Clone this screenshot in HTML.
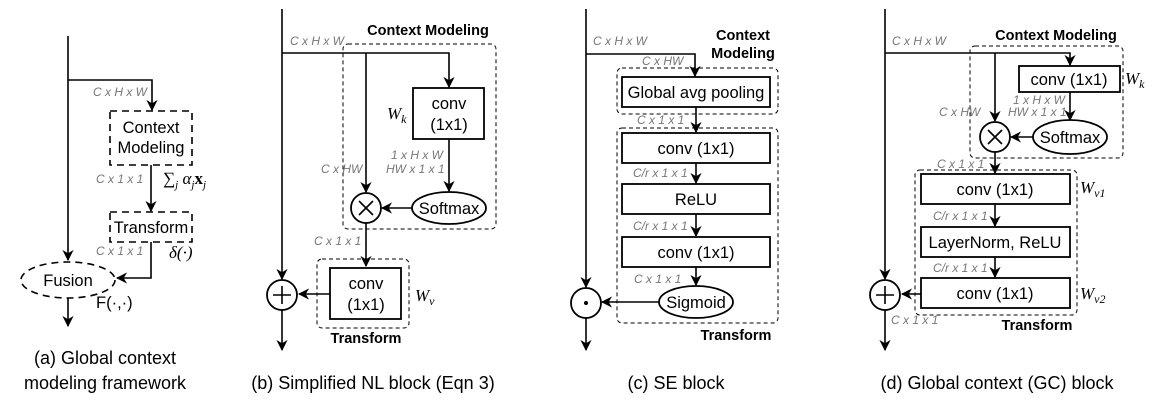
<!DOCTYPE html>
<html><head><meta charset="utf-8"><style>
html,body{margin:0;padding:0;background:#fff;}
svg{display:block;}
.l{stroke:#000;stroke-width:1.6;fill:none;}
.b{stroke:#000;stroke-width:1.8;fill:#fff;}
.d{stroke:#000;stroke-width:1;fill:none;stroke-dasharray:4 3;}
.dd{stroke:#000;stroke-width:1.6;fill:none;stroke-dasharray:7 5;}
.dim{font-family:"Liberation Sans",sans-serif;font-style:italic;font-size:12px;fill:#777;}
.t{font-family:"Liberation Sans",sans-serif;font-size:16.5px;fill:#000;}
.bo{font-family:"Liberation Sans",sans-serif;font-weight:bold;font-size:14.5px;fill:#000;}
.m{font-family:"Liberation Serif",serif;font-style:italic;font-size:17px;fill:#000;}
.cap{font-family:"Liberation Sans",sans-serif;font-size:18px;fill:#000;}
</style></head><body>
<svg width="1154" height="404" viewBox="0 0 1154 404" xmlns="http://www.w3.org/2000/svg">
<defs><marker id="a" viewBox="0 0 10 10" refX="9" refY="5" markerWidth="7" markerHeight="7" orient="auto"><path d="M0,0 L10,5 L0,10 L3,5 Z" fill="#000"/></marker></defs>

<!-- (a) -->
<path class="l" d="M68,36 V260" marker-end="url(#a)"/>
<path class="l" d="M68,80 H152 V110" marker-end="url(#a)"/>
<text class="dim" x="93" y="96">C x H x W</text>
<rect class="dd" x="110" y="111" width="82" height="54"/>
<text class="t" x="151" y="133" text-anchor="middle">Context</text>
<text class="t" x="151" y="153" text-anchor="middle">Modeling</text>
<path class="l" d="M151,165 V211" marker-end="url(#a)"/>
<text class="dim" x="96" y="183">C x 1 x 1</text>
<text class="m" x="163" y="184">∑<tspan font-size="11" dy="4">j</tspan><tspan dy="-4"> α</tspan><tspan font-size="11" dy="4">j</tspan><tspan dy="-4" font-weight="bold" font-style="normal">x</tspan><tspan font-size="11" dy="4">j</tspan></text>
<rect class="dd" x="110" y="212" width="82" height="30"/>
<text class="t" x="151" y="233" text-anchor="middle">Transform</text>
<path class="l" d="M151,242 V278 H117" marker-end="url(#a)"/>
<text class="dim" x="96" y="255">C x 1 x 1</text>
<text class="m" x="169" y="258" font-size="15">δ(·)</text>
<ellipse class="dd" cx="68" cy="280" rx="47" ry="18"/>
<text class="t" x="68" y="286" text-anchor="middle">Fusion</text>
<text class="t" x="96" y="308">F(·,·)</text>
<path class="l" d="M68,298 V326" marker-end="url(#a)"/>
<text class="cap" x="105" y="364" text-anchor="middle">(a) Global context</text>
<text class="cap" x="105" y="389" text-anchor="middle">modeling framework</text>

<!-- (b) -->
<path class="l" d="M282,9 V279" marker-end="url(#a)"/>
<path class="l" d="M282,53 H449 V87" marker-end="url(#a)"/>
<path class="l" d="M366,53 V192" marker-end="url(#a)"/>
<text class="dim" x="290" y="45">C x H x W</text>
<rect class="d" x="343" y="44" width="153" height="185" rx="5"/>
<text class="bo" x="428" y="35" text-anchor="middle">Context Modeling</text>
<rect class="b" x="413" y="88" width="71" height="51"/>
<text class="t" x="449" y="109" text-anchor="middle">conv</text>
<text class="t" x="449" y="130" text-anchor="middle">(1x1)</text>
<text class="m" x="387" y="119" font-size="19">W<tspan font-size="12" dy="4">k</tspan></text>
<path class="l" d="M449,139 V191" marker-end="url(#a)"/>
<text class="dim" x="391" y="159">1 x H x W</text>
<text class="dim" x="386" y="173">HW x 1 x 1</text>
<text class="dim" x="321" y="173">C x HW</text>
<ellipse class="b" cx="449" cy="208" rx="37" ry="16"/>
<text class="t" x="449" y="214" text-anchor="middle">Softmax</text>
<path class="l" d="M412,208 H382" marker-end="url(#a)"/>
<circle class="b" cx="366" cy="208" r="15"/>
<path class="l" d="M359,201 L373,215 M373,201 L359,215"/>
<path class="l" d="M366,223 V266" marker-end="url(#a)"/>
<text class="dim" x="314" y="245">C x 1 x 1</text>
<rect class="d" x="317" y="259" width="92" height="69" rx="5"/>
<rect class="b" x="330" y="268" width="71" height="51"/>
<text class="t" x="366" y="289" text-anchor="middle">conv</text>
<text class="t" x="366" y="310" text-anchor="middle">(1x1)</text>
<text class="m" x="415" y="301" font-size="19">W<tspan font-size="12" dy="4">v</tspan></text>
<text class="bo" x="366" y="343" text-anchor="middle">Transform</text>
<path class="l" d="M330,294 H299" marker-end="url(#a)"/>
<circle class="b" cx="282" cy="295" r="15"/>
<path class="l" d="M282,286 V304 M273,295 H291"/>
<path class="l" d="M282,310 V350" marker-end="url(#a)"/>
<text class="cap" x="373" y="389" text-anchor="middle">(b) Simplified NL block (Eqn 3)</text>

<!-- (c) -->
<path class="l" d="M586,9 V287" marker-end="url(#a)"/>
<path class="l" d="M586,54 H695 V76" marker-end="url(#a)"/>
<text class="dim" x="593" y="45">C x H x W</text>
<text class="dim" x="642" y="65">C x HW</text>
<text class="bo" x="743" y="40" text-anchor="middle">Context</text>
<text class="bo" x="743" y="58" text-anchor="middle">Modeling</text>
<rect class="d" x="617" y="68" width="161" height="46" rx="5"/>
<rect class="b" x="622" y="77" width="148" height="30"/>
<text class="t" x="696" y="98" text-anchor="middle">Global avg pooling</text>
<path class="l" d="M696,107 V132" marker-end="url(#a)"/>
<text class="dim" x="637" y="124">C x 1 x 1</text>
<rect class="d" x="617" y="128" width="161" height="195" rx="5"/>
<rect class="b" x="622" y="133" width="148" height="30"/>
<text class="t" x="696" y="154" text-anchor="middle">conv (1x1)</text>
<path class="l" d="M696,163 V183" marker-end="url(#a)"/>
<text class="dim" x="633" y="177">C/r x 1 x 1</text>
<rect class="b" x="622" y="184" width="148" height="30"/>
<text class="t" x="696" y="205" text-anchor="middle">ReLU</text>
<path class="l" d="M696,214 V236" marker-end="url(#a)"/>
<text class="dim" x="633" y="230">C/r x 1 x 1</text>
<rect class="b" x="622" y="237" width="148" height="30"/>
<text class="t" x="696" y="258" text-anchor="middle">conv (1x1)</text>
<path class="l" d="M696,267 V285" marker-end="url(#a)"/>
<text class="dim" x="634" y="283">C x 1 x 1</text>
<ellipse class="b" cx="696" cy="302" rx="37" ry="16"/>
<text class="t" x="696" y="308" text-anchor="middle">Sigmoid</text>
<path class="l" d="M659,302 H602" marker-end="url(#a)"/>
<circle class="b" cx="586" cy="303" r="15"/>
<circle cx="586" cy="303" r="2" fill="#000"/>
<text class="bo" x="736" y="340" text-anchor="middle">Transform</text>
<path class="l" d="M586,318 V350" marker-end="url(#a)"/>
<text class="cap" x="676" y="389" text-anchor="middle">(c) SE block</text>

<!-- (d) -->
<path class="l" d="M885,9 V279" marker-end="url(#a)"/>
<path class="l" d="M885,53 H1070 V65" marker-end="url(#a)"/>
<path class="l" d="M995,53 V121" marker-end="url(#a)"/>
<text class="dim" x="892" y="45">C x H x W</text>
<rect class="d" x="970" y="46" width="153" height="112" rx="5"/>
<text class="bo" x="1056" y="40" text-anchor="middle">Context Modeling</text>
<rect class="b" x="1019" y="66" width="101" height="26"/>
<text class="t" x="1069" y="85" text-anchor="middle">conv (1x1)</text>
<text class="m" x="1125" y="84" font-size="19">W<tspan font-size="12" dy="4">k</tspan></text>
<path class="l" d="M1070,92 V120" marker-end="url(#a)"/>
<text class="dim" x="1013" y="104">1 x H x W</text>
<text class="dim" x="1008" y="116">HW x 1 x 1</text>
<text class="dim" x="939" y="116">C x HW</text>
<ellipse class="b" cx="1070" cy="137" rx="37" ry="17"/>
<text class="t" x="1070" y="143" text-anchor="middle">Softmax</text>
<path class="l" d="M1033,137 H1011" marker-end="url(#a)"/>
<circle class="b" cx="995" cy="137" r="15"/>
<path class="l" d="M988,130 L1002,144 M1002,130 L988,144"/>
<path class="l" d="M995,152 V173" marker-end="url(#a)"/>
<text class="dim" x="937" y="168">C x 1 x 1</text>
<rect class="d" x="915" y="170" width="162" height="145" rx="5"/>
<rect class="b" x="921" y="174" width="149" height="30"/>
<text class="t" x="995" y="195" text-anchor="middle">conv (1x1)</text>
<text class="m" x="1080" y="193" font-size="19">W<tspan font-size="12" dy="4">v1</tspan></text>
<path class="l" d="M995,204 V226" marker-end="url(#a)"/>
<text class="dim" x="933" y="220">C/r x 1 x 1</text>
<rect class="b" x="921" y="227" width="149" height="30"/>
<text class="t" x="995" y="248" text-anchor="middle">LayerNorm, ReLU</text>
<path class="l" d="M995,257 V277" marker-end="url(#a)"/>
<text class="dim" x="933" y="272">C/r x 1 x 1</text>
<rect class="b" x="921" y="278" width="149" height="30"/>
<text class="t" x="995" y="299" text-anchor="middle">conv (1x1)</text>
<text class="m" x="1080" y="299" font-size="19">W<tspan font-size="12" dy="4">v2</tspan></text>
<path class="l" d="M921,294 H902" marker-end="url(#a)"/>
<circle class="b" cx="885" cy="295" r="15"/>
<path class="l" d="M885,286 V304 M876,295 H894"/>
<text class="dim" x="891" y="324">C x 1 x 1</text>
<text class="bo" x="1037" y="330" text-anchor="middle">Transform</text>
<path class="l" d="M885,310 V350" marker-end="url(#a)"/>
<text class="cap" x="997" y="389" text-anchor="middle">(d) Global context (GC) block</text>
</svg>
</body></html>
